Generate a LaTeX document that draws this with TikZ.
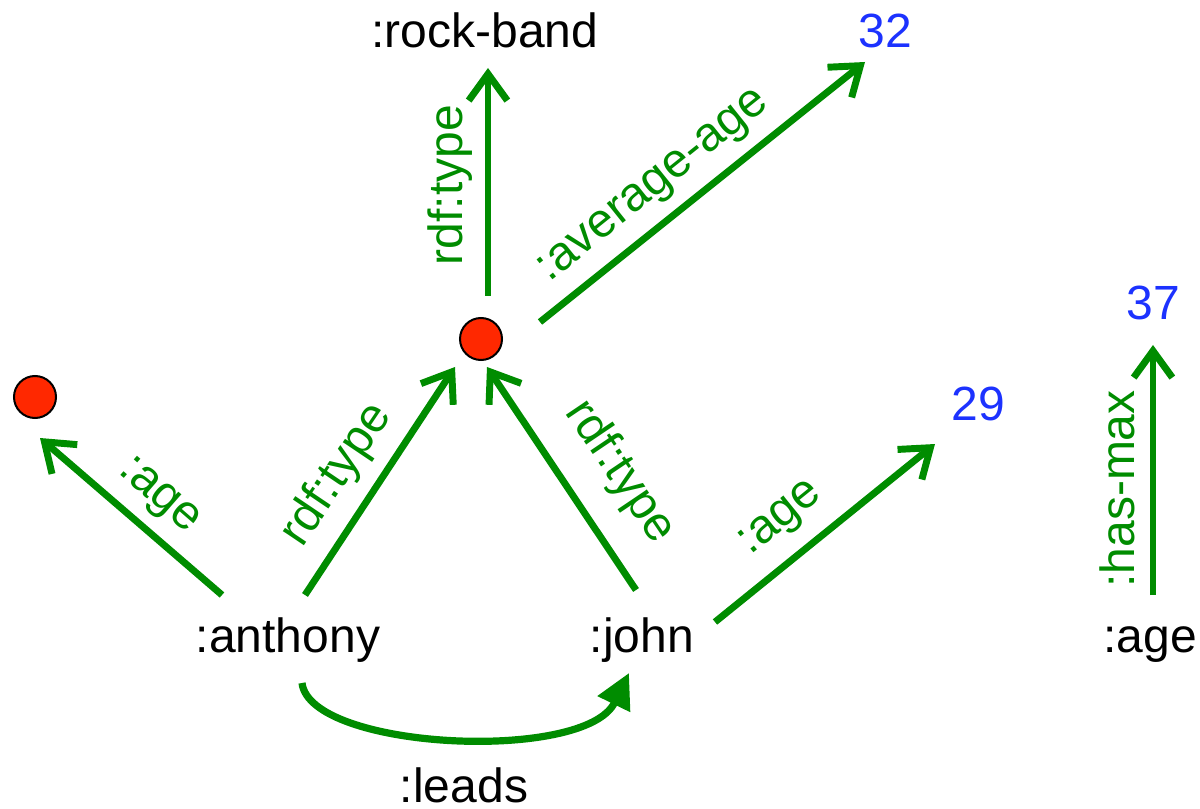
\documentclass[tikz,border=0pt]{standalone}
\usepackage{fontspec}
\setmainfont{Liberation Sans}
\usetikzlibrary{arrows.meta}
\definecolor{edgegreen}{RGB}{0,140,0}
\definecolor{litblue}{RGB}{28,50,255}
\definecolor{bnodered}{RGB}{255,40,0}

\begin{document}
\begin{tikzpicture}[x=0.75pt,y=-0.75pt,
  term/.style={font=\fontsize{36}{40}\selectfont, anchor=base, inner sep=0pt},
  lit/.style={term, text=litblue},
  blank/.style={circle, draw=black, line width=1.5pt, fill=bnodered, minimum size=31.5pt, inner sep=0pt},
  rel/.style={draw=edgegreen, line width=5.2pt, -{Straight Barb[length=20pt,width=29pt]}},
  leadsrel/.style={draw=edgegreen, line width=5.4pt, -{Triangle[length=26pt,width=26pt]}},
  lbl/.style={font=\fontsize{36}{40}\selectfont, text=edgegreen, inner sep=0pt}]
\useasboundingbox (0,0) rectangle (1200,809);

% resources and literals
\node[term] (rockband) at (485,48) {:rock-band};
\node[lit]  (avg) at (885,48) {32};
\node[lit]  (max) at (1153,320) {37};
\node[lit]  (jage) at (978,420) {29};
\node[term] (anthony) at (288,652) {:anthony};
\node[term] (john) at (642,652) {:john};
\node[term] (age) at (1150,652) {:age};

% blank nodes
\node[blank] (band) at (481,339) {};
\node[blank] (aage) at (35,397) {};

% properties
\draw[rel] ([shift={(7,-43)}]band.center) -- ([shift={(3,20)}]rockband.base);
\draw[rel] ([shift={(59,-17)}]band.center) -- ([shift={(-20,14)}]avg.base);
\draw[rel] ([shift={(-66,-57)}]anthony.base) -- ([shift={(5,41)}]aage.center);
\draw[rel] ([shift={(17,-57)}]anthony.base) -- ([shift={(-26,28)}]band.center);
\draw[rel] ([shift={(-6,-62)}]john.base) -- ([shift={(6,28)}]band.center);
\draw[rel] ([shift={(73,-30)}]john.base) -- ([shift={(-43,24)}]jage.base);
\draw[rel] ([shift={(3,-57)}]age.base) -- ([shift={(0,25)}]max.base);
\draw[leadsrel] ([shift={(14,31)}]anthony.base)
  .. controls (310,750) and (585,763) .. ([shift={(-13,21)}]john.base);

% property labels
\node[lbl, rotate=90]  (l1) at (450,185) {rdf:type};
\node[lbl, rotate=38.7] (l2) at (655,188) {:average-age};
\node[lbl, rotate=-41] (l3) at (158,497) {:age};
\node[lbl, rotate=56]  (l4) at (337,475) {rdf:type};
\node[lbl, rotate=-56] (l5) at (620,472) {rdf:type};
\node[lbl, rotate=39]  (l6) at (782,520) {:age};
\node[lbl, rotate=90]  (l7) at (1117,489) {:has-max};
\node[term] (leads) at (464,802) {:leads};
\end{tikzpicture}
\end{document}
